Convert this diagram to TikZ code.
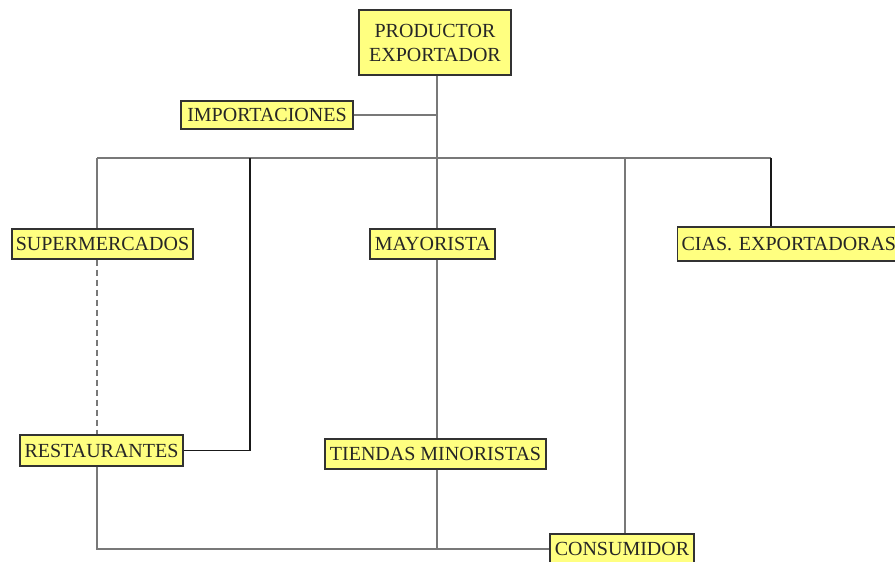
\documentclass[tikz,border=0pt]{standalone}
\usepackage{fontspec}
\setmainfont{Liberation Serif}
\definecolor{boxfill}{RGB}{255,255,128}
\definecolor{boxline}{RGB}{50,50,50}
\definecolor{thinline}{RGB}{120,120,120}
\begin{document}
\begin{tikzpicture}[x=1pt,y=-1pt,
  box/.style={draw=boxline,line width=1.3pt,fill=boxfill,inner sep=0pt,align=center,
    font=\fontsize{20}{24}\selectfont,text=black!85},
  thin/.style={draw=thinline,line width=1.1pt},
  thick/.style={draw=black!90,line width=1.8pt}]
\useasboundingbox (0,0) rectangle (895,562);
\clip (0,0) rectangle (895,562);
\fill[white] (0,0) rectangle (895,562);
% junction coordinates
\coordinate (trunk) at (437,158);
\coordinate (busL) at (97,158);
\coordinate (busR) at (771,158);
\coordinate (b250) at (250,158);
\coordinate (b625) at (625,158);
\coordinate (bot) at (437,549);
% nodes
\node[box,minimum width=152pt,minimum height=65pt] (prod) at (435,42.5) {PRODUCTOR\\EXPORTADOR};
\node[box,minimum width=172pt,minimum height=28pt] (imp) at (267,115) {IMPORTACIONES};
\node[box,minimum width=181pt,minimum height=30pt] (super) at (102.5,244) {SUPERMERCADOS};
\node[box,minimum width=125pt,minimum height=30pt] (mayor) at (432.5,244) {MAYORISTA};
\node[box,minimum width=230pt,minimum height=34pt,anchor=west,text width=222pt,align=left] (cias) at (677,244) {CIAS. EXPORTADORAS};
\node[box,minimum width=163pt,minimum height=31pt] (rest) at (101.5,450.5) {RESTAURANTES};
\node[box,minimum width=221pt,minimum height=30pt] (tiendas) at (435.5,454) {TIENDAS MINORISTAS};
\node[box,minimum width=144pt,minimum height=30pt] (cons) at (622,549) {CONSUMIDOR};
% connectors
\begin{scope}[on background layer/.try]
\end{scope}
\draw[thin] (prod.south -| trunk) -- (mayor.north -| trunk);
\draw[thin] (imp.east) -- (imp.east -| trunk);
\draw[thin] (busL) -- (busR);
\draw[thin] (busL) -- (super.north -| busL);
\draw[thin,dashed,dash pattern=on 6pt off 4pt] (super.south -| busL) -- (rest.north -| busL);
\draw[thick] (b250) |- (rest.east);
\draw[thin] (b625) -- (cons.north -| b625);
\draw[thick] (busR) -- (cias.north -| busR);
\draw[thin] (mayor.south -| trunk) -- (tiendas.north -| trunk);
\draw[thin] (tiendas.south -| trunk) -- (bot);
\draw[thin] (rest.south -| busL) |- (cons.west);
\end{tikzpicture}
\end{document}
